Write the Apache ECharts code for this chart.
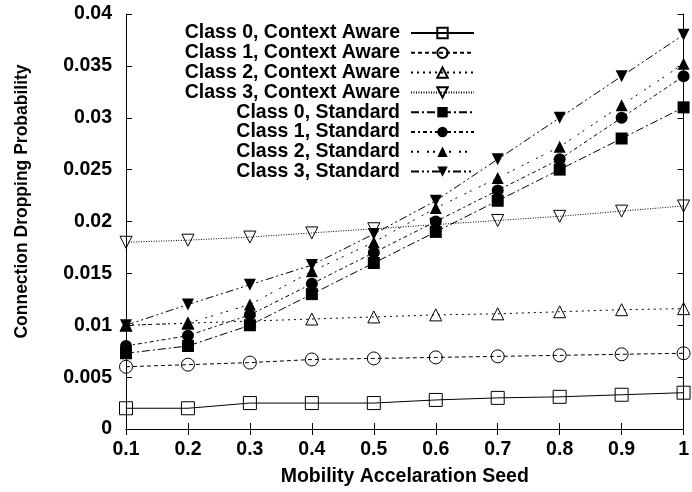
<!DOCTYPE html>
<html>
<head>
<meta charset="utf-8">
<script src="https://cdn.jsdelivr.net/npm/echarts@6/dist/echarts.min.js"></script>
<style>
  html, body { margin: 0; padding: 0; background: #fff; }
  #chart { width: 692px; height: 492px; }
</style>
</head>
<body>
<div id="chart"></div>
<script>
// Mobility acceleration seed values (x axis)
const seeds = ['0.1', '0.2', '0.3', '0.4', '0.5', '0.6', '0.7', '0.8', '0.9', '1'];

// Connection dropping probability, context-aware scheme
const class0Aware = [0.002, 0.002, 0.0025, 0.0025, 0.0025, 0.0028, 0.003, 0.0031, 0.0033, 0.0035];
const class1Aware = [0.006, 0.0062, 0.0064, 0.0067, 0.0068, 0.0069, 0.007, 0.0071, 0.0072, 0.0073];
const class2Aware = [0.01, 0.0102, 0.0104, 0.0106, 0.0108, 0.011, 0.0111, 0.0113, 0.0115, 0.0116];
const class3Aware = [0.018, 0.0182, 0.0185, 0.0189, 0.0193, 0.0197, 0.0201, 0.0205, 0.021, 0.0215];

// Connection dropping probability, standard scheme
const class0Std = [0.0073, 0.008, 0.01, 0.013, 0.016, 0.019, 0.022, 0.025, 0.028, 0.031];
const class1Std = [0.008, 0.009, 0.011, 0.014, 0.017, 0.02, 0.023, 0.026, 0.03, 0.034];
const class2Std = [0.01, 0.0102, 0.012, 0.0152, 0.018, 0.0213, 0.0242, 0.0272, 0.0312, 0.0352];
const class3Std = [0.01, 0.012, 0.0139, 0.0158, 0.0188, 0.022, 0.026, 0.03, 0.034, 0.038];

const yTicks = { min: 0, max: 0.04, step: 0.005 };

const seriesNames = [
  'Class 0, Context Aware', 'Class 1, Context Aware', 'Class 2, Context Aware', 'Class 3, Context Aware',
  'Class 0, Standard', 'Class 1, Standard', 'Class 2, Standard', 'Class 3, Standard'
];
const seriesData = [class0Aware, class1Aware, class2Aware, class3Aware, class0Std, class1Std, class2Std, class3Std];

const FONT = 'Liberation Sans, Arial, sans-serif';
const TEXT_SIZE = 19.5;
const downTri = 'path://M0,0L12,0L6,11Z';

// per-series marker and dash pattern
const styles = [
  { symbol: 'rect', size: 13, filled: false, dash: 'solid' },
  { symbol: 'circle', size: 13, filled: false, dash: [4, 3] },
  { symbol: 'triangle', size: 12, filled: false, dash: [2, 4] },
  { symbol: downTri, size: 12, filled: false, dash: [1, 1.5] },
  { symbol: 'rect', size: 12, filled: true, dash: [8, 3, 2, 3] },
  { symbol: 'circle', size: 12, filled: true, dash: [4, 3, 2, 3] },
  { symbol: 'triangle', size: 12, filled: true, dash: [2, 4, 2, 8] },
  { symbol: downTri, size: 12, filled: true, dash: [8, 3, 2, 3, 2, 3] }
];

const series = seriesNames.map((name, i) => {
  const s = styles[i];
  return {
    name: name,
    type: 'line',
    data: seriesData[i],
    symbol: s.symbol,
    symbolSize: s.size,
    showAllSymbol: true,
    lineStyle: { color: '#000', width: 1, type: s.dash },
    itemStyle: s.filled
      ? { color: '#000', borderColor: '#000', borderWidth: 0 }
      : { color: 'rgba(255,255,255,0)', borderColor: '#000', borderWidth: 1 },
    emphasis: { disabled: true },
    animation: false
  };
});

// one legend block per entry, anchored at the right so the texts line up on the right
const legends = seriesNames.map((name, i) => ({
  data: [name],
  right: 217,
  top: 23 + i * 19.8,
  align: 'right',
  orient: 'vertical',
  itemWidth: 63,
  itemHeight: 13,
  padding: 0,
  selectedMode: false,
  textStyle: { fontFamily: FONT, fontWeight: 'bold', fontSize: TEXT_SIZE, color: '#000', padding: [0, 6, 0, 0] }
}));

const axisLabelStyle = { fontFamily: FONT, fontWeight: 'bold', fontSize: TEXT_SIZE, color: '#000' };

const option = {
  backgroundColor: '#fff',
  animation: false,
  grid: { left: 126, right: 5, top: 14, bottom: 63, show: false },
  legend: legends,
  xAxis: [
    {
      type: 'category', data: seeds, boundaryGap: false, position: 'bottom',
      name: 'Mobility Accelaration Seed', nameLocation: 'middle', nameGap: 38,
      nameTextStyle: { fontFamily: FONT, fontWeight: 'bold', fontSize: TEXT_SIZE, color: '#000' },
      axisLine: { lineStyle: { color: '#000', width: 1 } },
      axisTick: { inside: true, length: 6, alignWithLabel: true, lineStyle: { color: '#000' } },
      axisLabel: Object.assign({ margin: 11 }, axisLabelStyle),
      splitLine: { show: false }
    },
    {
      type: 'category', data: seeds, boundaryGap: false, position: 'top',
      axisLine: { lineStyle: { color: '#000', width: 1 } },
      axisTick: { inside: true, length: 6, lineStyle: { color: '#000' } },
      axisLabel: { show: false },
      splitLine: { show: false }
    }
  ],
  yAxis: [
    {
      type: 'value', min: yTicks.min, max: yTicks.max, interval: yTicks.step, position: 'left',
      name: 'Connection Dropping Probability', nameLocation: 'middle', nameGap: 95, nameRotate: 90,
      nameTextStyle: { fontFamily: FONT, fontWeight: 'bold', fontSize: 17.5, color: '#000', padding: [0, 0, 0, 40] },
      axisLine: { show: true, lineStyle: { color: '#000', width: 1 } },
      axisTick: { show: true, inside: true, length: 6, lineStyle: { color: '#000' } },
      axisLabel: Object.assign({ margin: 14 }, axisLabelStyle),
      splitLine: { show: false }
    },
    {
      type: 'value', min: yTicks.min, max: yTicks.max, interval: yTicks.step, position: 'right',
      axisLine: { show: true, lineStyle: { color: '#000', width: 1 } },
      axisTick: { show: true, inside: true, length: 6, lineStyle: { color: '#000' } },
      axisLabel: { show: false },
      splitLine: { show: false }
    }
  ],
  series: series
};

const chart = echarts.init(document.getElementById('chart'), null, { renderer: 'canvas' });
chart.setOption(option);
</script>
</body>
</html>
